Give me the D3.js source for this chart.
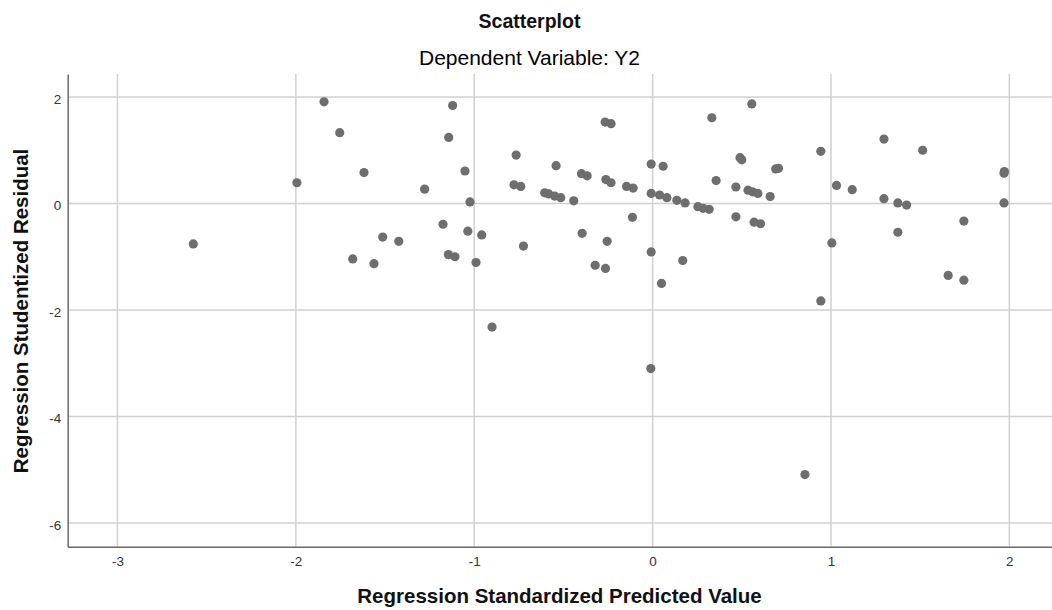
<!DOCTYPE html>
<html><head><meta charset="utf-8">
<script src="https://cdn.jsdelivr.net/npm/d3@7"></script>
<style>
html,body{margin:0;padding:0;background:#fff;}
svg{display:block;font-family:"Liberation Sans",Arial,Helvetica,sans-serif;}
</style></head>
<body>
<svg id="chart" width="1052" height="610"></svg>
<script>
// Regression Standardized Predicted Value
const predicted = [
 -1.842,-1.754,-1.618,-1.994,-2.575,-1.513,-1.423,-1.681,-1.562,
 -1.121,-1.143,-1.052,-1.278,-1.024,-1.175,-1.036,-0.958,-1.145,-1.108,-0.990,-0.900,
 -0.765,-0.777,-0.739,-0.724,-0.541,-0.605,-0.582,-0.549,-0.515,-0.442,-0.399,-0.367,
 -0.395,-0.322,-0.264,-0.255,-0.266,-0.233,-0.262,-0.233,-0.146,-0.109,-0.113,
 -0.008,0.059,-0.008,0.039,0.080,0.136,0.182,0.254,0.283,0.317,-0.008,0.169,0.050,
 0.556,0.332,0.490,0.500,0.690,0.706,0.356,0.467,0.535,0.560,0.590,0.659,0.467,0.569,0.605,
 0.943,1.005,0.943,1.031,1.119,1.297,1.514,1.297,1.375,1.424,1.375,
 1.970,1.972,1.970,1.745,1.657,1.745,
 -0.010,0.854
];
// Regression Studentized Residual
const residual = [
 1.91,1.33,0.58,0.39,-0.76,-0.63,-0.71,-1.04,-1.13,
 1.84,1.24,0.61,0.27,0.03,-0.39,-0.52,-0.59,-0.96,-1.00,-1.11,-2.32,
 0.91,0.35,0.32,-0.80,0.71,0.20,0.18,0.14,0.11,0.05,0.56,0.52,
 -0.56,-1.16,-1.22,-0.71,1.53,1.50,0.45,0.39,0.32,0.29,-0.26,
 0.74,0.70,0.19,0.16,0.11,0.06,0.01,-0.06,-0.09,-0.11,-0.91,-1.07,-1.50,
 1.87,1.61,0.86,0.82,0.65,0.66,0.43,0.31,0.25,0.22,0.19,0.13,-0.25,-0.35,-0.38,
 0.98,-0.74,-1.83,0.34,0.26,1.21,1.00,0.09,0.01,-0.03,-0.54,
 0.57,0.60,0.01,-0.33,-1.35,-1.44,
 -3.10,-5.09
];
const xTicks = [-3,-2,-1,0,1,2];
const yTicks = [2,0,-2,-4,-6];
const xDomain = [-3.279, 2.239];
const yDomain = [-6.445, 2.432];
const title = "Scatterplot";
const subtitle = "Dependent Variable: Y2";
const xTitle = "Regression Standardized Predicted Value";
const yTitle = "Regression Studentized Residual";

const svg = d3.select("#chart");
const L = 67.7, R = 1052, T = 74, B = 546.7;
const x = d3.scaleLinear().domain(xDomain).range([L, R]);
const y = d3.scaleLinear().domain(yDomain).range([B, T]);

// gridlines
const grid = svg.append("g");
grid.selectAll("line.v").data(xTicks).join("line")
  .attr("x1", d => x(d)).attr("x2", d => x(d)).attr("y1", T).attr("y2", B)
  .attr("stroke", "#d0d0d0").attr("stroke-width", 1.5);
grid.selectAll("line.h").data(yTicks).join("line")
  .attr("x1", L).attr("x2", R).attr("y1", d => y(d)).attr("y2", d => y(d))
  .attr("stroke", "#d0d0d0").attr("stroke-width", 1.5);

// axes
const fmt = d => String(d);
const xAxis = d3.axisBottom(x).tickValues(xTicks).tickSize(0).tickPadding(10).tickFormat(fmt);
const yAxis = d3.axisLeft(y).tickValues(yTicks).tickSize(0).tickPadding(6.5).tickFormat(fmt);
const gx = svg.append("g").attr("transform", `translate(0,${B})`).call(xAxis);
const gy = svg.append("g").attr("transform", `translate(${L},0)`).call(yAxis);
[gx, gy].forEach(g => {
  g.select(".domain").attr("stroke", "#6a6a6a").attr("stroke-width", 1.5);
  g.selectAll("text").attr("font-size", 13.5).attr("fill", "#333")
   .attr("font-family", "'Liberation Sans',Arial,sans-serif");
});
gy.selectAll("text").attr("dy", "0.45em");

// points
const pts = predicted.map((p, i) => ({p, r: residual[i]}));
svg.append("g").selectAll("circle").data(pts).join("circle")
  .attr("cx", d => x(d.p)).attr("cy", d => y(d.r)).attr("r", 4.6)
  .attr("fill", "#6e6e6e");

// titles
svg.append("text").attr("x", 529.5).attr("y", 27.5).attr("text-anchor", "middle")
  .attr("font-size", 19.5).attr("font-weight", "bold").attr("fill", "#111").text(title);
svg.append("text").attr("x", 529.5).attr("y", 65).attr("text-anchor", "middle")
  .attr("font-size", 21).attr("fill", "#000").text(subtitle);
svg.append("text").attr("x", 559.5).attr("y", 603).attr("text-anchor", "middle")
  .attr("font-size", 20.5).attr("font-weight", "bold").attr("fill", "#111").text(xTitle);
svg.append("text").attr("transform", "translate(27.5,311) rotate(-90)").attr("text-anchor", "middle")
  .attr("font-size", 20.5).attr("font-weight", "bold").attr("fill", "#111").text(yTitle);
</script>
</body></html>
